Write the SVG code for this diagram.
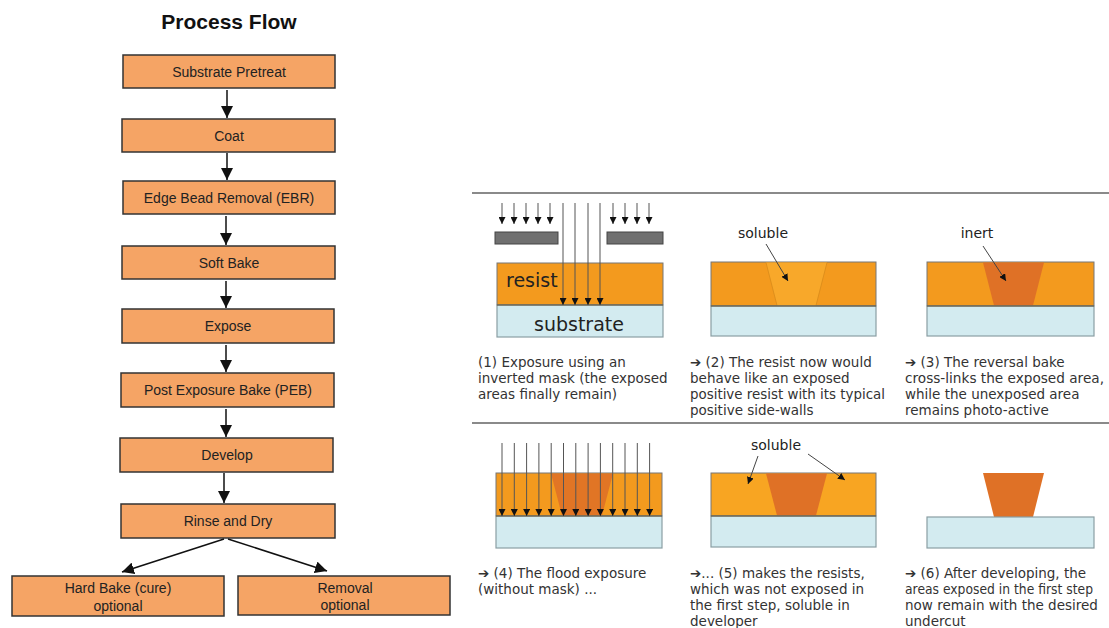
<svg xmlns="http://www.w3.org/2000/svg" width="1109" height="628" viewBox="0 0 1109 628">
  <defs>
    <marker id="ah" viewBox="0 0 10 10" refX="10" refY="5" markerWidth="7" markerHeight="7" orient="auto" markerUnits="userSpaceOnUse">
      <path d="M0,0 L10,5 L0,10 z" fill="#111"/>
    </marker>
    <marker id="ahFlow" viewBox="0 0 10 10" refX="10" refY="5" markerWidth="12" markerHeight="12" orient="auto" markerUnits="userSpaceOnUse">
      <path d="M0,0 L10,5 L0,10 z" fill="#111"/>
    </marker>
    <style>
      .box { fill: #F5A465; stroke: #333; stroke-width: 1.5; }
      .lbl { font-family: "Liberation Sans", Arial, sans-serif; font-size: 14px; fill: #222; text-anchor: middle; }
      .title { font-family: "Liberation Sans", Arial, sans-serif; font-size: 21px; font-weight: bold; fill: #111; text-anchor: middle; }
      .flow { stroke: #111; stroke-width: 1.5; fill: none; marker-end: url(#ahFlow); }
      .sep { stroke: #8a8a8a; stroke-width: 2; }
      .resist { fill: #F39A1E; stroke: #777; stroke-width: 1; }
      .sub { fill: #D3EBF0; stroke: #8a9ea3; stroke-width: 1.2; }
      .sol { fill: #F8A82A; }
      .inert { fill: #DF7126; }
      .ray { stroke: #555; stroke-width: 1; fill: none; marker-end: url(#ah); }
      .ptr { stroke: #444; stroke-width: 1; fill: none; marker-end: url(#ah); }
      .mask { fill: #707070; stroke: #444; stroke-width: 1; }
      .cap { font-family: "DejaVu Sans", Verdana, sans-serif; font-size: 13.5px; fill: #333; }
      .tag { font-family: "DejaVu Sans", Verdana, sans-serif; font-size: 14px; fill: #222; text-anchor: middle; }
      .big { font-family: "DejaVu Sans", Verdana, sans-serif; font-size: 19px; fill: #222; }
    </style>
  </defs>

  <rect width="1109" height="628" fill="#ffffff"/>

  <!-- Process flow chart -->
  <text class="title" x="229" y="29">Process Flow</text>

  <g id="n-pretreat"><rect class="box" x="123" y="55" width="212" height="33"/><text class="lbl" x="229" y="76.5">Substrate Pretreat</text></g>
  <g id="n-coat"><rect class="box" x="122" y="119" width="213" height="33"/><text class="lbl" x="229" y="140.5">Coat</text></g>
  <g id="n-ebr"><rect class="box" x="123" y="181" width="212" height="33"/><text class="lbl" x="229" y="202.5">Edge Bead Removal (EBR)</text></g>
  <g id="n-softbake"><rect class="box" x="122" y="246" width="213" height="33"/><text class="lbl" x="229" y="267.5">Soft Bake</text></g>
  <g id="n-expose"><rect class="box" x="122" y="309" width="212" height="34"/><text class="lbl" x="228" y="331">Expose</text></g>
  <g id="n-peb"><rect class="box" x="121" y="373" width="213" height="34"/><text class="lbl" x="228" y="395">Post Exposure Bake (PEB)</text></g>
  <g id="n-develop"><rect class="box" x="120" y="438" width="213" height="34"/><text class="lbl" x="227" y="460">Develop</text></g>
  <g id="n-rinse"><rect class="box" x="121" y="504" width="214" height="34"/><text class="lbl" x="228" y="526">Rinse and Dry</text></g>
  <g id="n-hardbake"><rect class="box" x="12" y="576" width="212" height="40"/><text class="lbl" x="118" y="593">Hard Bake (cure)</text><text class="lbl" x="118" y="611">optional</text></g>
  <g id="n-removal"><rect class="box" x="238" y="576" width="212" height="39"/><text class="lbl" x="345" y="593">Removal</text><text class="lbl" x="345" y="610">optional</text></g>

  <g id="connectors">
    <line class="flow" x1="227" y1="90" x2="227" y2="118"/>
    <line class="flow" x1="227" y1="153" x2="227" y2="180"/>
    <line class="flow" x1="226" y1="216" x2="226" y2="245"/>
    <line class="flow" x1="226" y1="281" x2="226" y2="308"/>
    <line class="flow" x1="226" y1="345" x2="226" y2="372"/>
    <line class="flow" x1="226" y1="409" x2="226" y2="437"/>
    <line class="flow" x1="224" y1="473" x2="224" y2="503"/>
    <line class="flow" x1="224" y1="539" x2="122" y2="572"/>
    <line class="flow" x1="228" y1="539" x2="327" y2="571"/>
  </g>

  <!-- Image reversal sequence -->
  <line class="sep" x1="472" y1="193" x2="1109" y2="193"/>
  <line class="sep" x1="472" y1="423" x2="1109" y2="423"/>

  <!-- (1) exposure through inverted mask -->
  <g id="step1">
    <rect class="resist" x="497" y="263" width="166" height="42"/>
    <rect class="sub" x="497" y="305" width="166" height="32"/>
    <line x1="497" y1="305" x2="663" y2="305" stroke="#5a4a30" stroke-width="1"/>
    <rect class="mask" x="495" y="232" width="63" height="12"/>
    <rect class="mask" x="607" y="232" width="56" height="12"/>
    <line class="ray" x1="502" y1="203" x2="502" y2="224"/>
    <line class="ray" x1="514" y1="203" x2="514" y2="224"/>
    <line class="ray" x1="526" y1="203" x2="526" y2="224"/>
    <line class="ray" x1="538" y1="203" x2="538" y2="224"/>
    <line class="ray" x1="550" y1="203" x2="550" y2="224"/>
    <line class="ray" x1="613" y1="203" x2="613" y2="224"/>
    <line class="ray" x1="625" y1="203" x2="625" y2="224"/>
    <line class="ray" x1="637" y1="203" x2="637" y2="224"/>
    <line class="ray" x1="649" y1="203" x2="649" y2="224"/>
    <line class="ray" x1="563" y1="203" x2="563" y2="305"/>
    <line class="ray" x1="575" y1="203" x2="575" y2="305"/>
    <line class="ray" x1="588" y1="203" x2="588" y2="305"/>
    <line class="ray" x1="600" y1="203" x2="600" y2="305"/>
    <text class="big" x="506" y="287">resist</text>
    <text class="big" x="534" y="331">substrate</text>
    <text class="cap" x="478" y="367">(1) Exposure using an</text>
    <text class="cap" x="478" y="383">inverted mask (the exposed</text>
    <text class="cap" x="478" y="399">areas finally remain)</text>
  </g>

  <!-- (2) exposed area soluble -->
  <g id="step2">
    <rect class="resist" x="711" y="262" width="165" height="44"/>
    <polygon class="sol" points="766,262.5 827,262.5 816,305.5 777,305.5"/>
    <line x1="766" y1="262.5" x2="777" y2="305.5" stroke="#d88a1a" stroke-width="0.8"/>
    <line x1="827" y1="262.5" x2="816" y2="305.5" stroke="#d88a1a" stroke-width="0.8"/>
    <rect class="sub" x="711" y="306" width="165" height="30"/>
    <line x1="711" y1="306" x2="876" y2="306" stroke="#5a4a30" stroke-width="1"/>
    <text class="tag" x="763" y="238">soluble</text>
    <line class="ptr" x1="766" y1="244" x2="788" y2="281"/>
    <text class="cap" x="690" y="367">➔ (2) The resist now would</text>
    <text class="cap" x="690" y="383">behave like an exposed</text>
    <text class="cap" x="690" y="399" textLength="195" lengthAdjust="spacingAndGlyphs">positive resist with its typical</text>
    <text class="cap" x="690" y="415">positive side-walls</text>
  </g>

  <!-- (3) reversal bake -->
  <g id="step3">
    <rect class="resist" x="927" y="262" width="167" height="44"/>
    <polygon class="inert" points="983,262.5 1044,262.5 1033,305.5 994,305.5"/>
    <rect class="sub" x="927" y="306" width="167" height="30"/>
    <line x1="927" y1="306" x2="1094" y2="306" stroke="#5a4a30" stroke-width="1"/>
    <text class="tag" x="977" y="238">inert</text>
    <line class="ptr" x1="983" y1="246" x2="1006" y2="281"/>
    <text class="cap" x="905" y="367">➔ (3) The reversal bake</text>
    <text class="cap" x="905" y="383" textLength="199" lengthAdjust="spacingAndGlyphs">cross-links the exposed area,</text>
    <text class="cap" x="905" y="399">while the unexposed area</text>
    <text class="cap" x="905" y="415">remains photo-active</text>
  </g>

  <!-- (4) flood exposure -->
  <g id="step4">
    <rect class="resist" x="496" y="473" width="166" height="43"/>
    <polygon class="inert" points="551,473.5 613,473.5 602,515.5 562,515.5" opacity="0.9"/>
    <rect class="sub" x="496" y="516" width="166" height="32"/>
    <line x1="496" y1="516" x2="662" y2="516" stroke="#5a4a30" stroke-width="1"/>
    <line class="ray" x1="502" y1="443" x2="502" y2="516"/>
    <line class="ray" x1="514.3" y1="443" x2="514.3" y2="516"/>
    <line class="ray" x1="526.6" y1="443" x2="526.6" y2="516"/>
    <line class="ray" x1="538.9" y1="443" x2="538.9" y2="516"/>
    <line class="ray" x1="551.2" y1="443" x2="551.2" y2="516"/>
    <line class="ray" x1="563.5" y1="443" x2="563.5" y2="516"/>
    <line class="ray" x1="575.8" y1="443" x2="575.8" y2="516"/>
    <line class="ray" x1="588.1" y1="443" x2="588.1" y2="516"/>
    <line class="ray" x1="600.4" y1="443" x2="600.4" y2="516"/>
    <line class="ray" x1="612.7" y1="443" x2="612.7" y2="516"/>
    <line class="ray" x1="625" y1="443" x2="625" y2="516"/>
    <line class="ray" x1="637.3" y1="443" x2="637.3" y2="516"/>
    <line class="ray" x1="649.6" y1="443" x2="649.6" y2="516"/>
    <text class="cap" x="478" y="578">➔ (4) The flood exposure</text>
    <text class="cap" x="478" y="594">(without mask) ...</text>
  </g>

  <!-- (5) unexposed resist becomes soluble -->
  <g id="step5">
    <rect class="resist" x="711" y="473" width="165" height="43" style="fill:#F8A522"/>
    <polygon class="inert" points="766,473.5 827,473.5 816,515.5 777,515.5"/>
    <rect class="sub" x="711" y="516" width="165" height="31"/>
    <line x1="711" y1="516" x2="876" y2="516" stroke="#5a4a30" stroke-width="1"/>
    <text class="tag" x="776" y="450">soluble</text>
    <line class="ptr" x1="758" y1="456" x2="748" y2="484"/>
    <line class="ptr" x1="808" y1="454" x2="845" y2="480"/>
    <text class="cap" x="690" y="578">➔... (5) makes the resists,</text>
    <text class="cap" x="690" y="594">which was not exposed in</text>
    <text class="cap" x="690" y="610">the first step, soluble in</text>
    <text class="cap" x="690" y="626">developer</text>
  </g>

  <!-- (6) developed undercut profile -->
  <g id="step6">
    <polygon class="inert" points="983,473 1044,473 1033,517 994,517"/>
    <rect class="sub" x="927" y="517" width="167" height="31"/>
    <text class="cap" x="905" y="578">➔ (6) After developing, the</text>
    <text class="cap" x="905" y="594" textLength="188" lengthAdjust="spacingAndGlyphs">areas exposed in the first step</text>
    <text class="cap" x="905" y="610">now remain with the desired</text>
    <text class="cap" x="905" y="626">undercut</text>
  </g>
</svg>
